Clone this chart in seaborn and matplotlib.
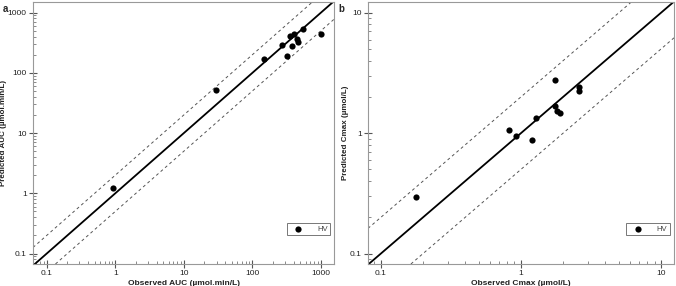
'''Predicted vs observed AUC and Cmax, log-log with 2-fold bands'''
import matplotlib
matplotlib.use('Agg')
import matplotlib.pyplot as plt
import seaborn as sns
import pandas as pd
from matplotlib.ticker import LogLocator, FixedLocator, FixedFormatter, NullFormatter

# Panel a: AUC (µmol.min/L)
auc_observed = [0.935, 29, 149, 269, 318, 352, 377, 407, 450, 466, 545, 998]
auc_predicted = [1.23, 51, 171, 286, 192, 404, 279, 437, 365, 329, 541, 437]

# Panel b: Cmax (µmol/L)
cmax_observed = [0.178, 0.817, 0.926, 1.2, 1.285, 1.74, 1.74, 1.8, 1.89, 2.61, 2.6]
cmax_predicted = [0.298, 1.06, 0.944, 0.88, 1.326, 2.79, 1.67, 1.52, 1.46, 2.41, 2.25]

auc_ticks = [0.1, 1, 10, 100, 1000]
auc_ticklabels = ['0.1', '1', '10', '100', '1000']
cmax_ticks = [0.1, 1, 10]
cmax_ticklabels = ['0.1', '1', '10']

sns.set_style('white')
plt.rcParams['font.family'] = ['Liberation Sans', 'DejaVu Sans']

fig = plt.figure(figsize=(6.76, 2.86), dpi=100)
ax_a = fig.add_axes([33 / 676, 22 / 286, 301 / 676, 262 / 286])
ax_b = fig.add_axes([368 / 676, 22 / 286, 306 / 676, 262 / 286])

panels = [
    (ax_a, auc_observed, auc_predicted, (0.063, 1550), (0.067, 1500),
     auc_ticks, auc_ticklabels, 'Observed AUC (µmol.min/L)', 'Predicted AUC (µmol.min/L)', 'a'),
    (ax_b, cmax_observed, cmax_predicted, (0.081, 12.4), (0.082, 12.3),
     cmax_ticks, cmax_ticklabels, 'Observed Cmax (µmol/L)', 'Predicted Cmax (µmol/L)', 'b'),
]

for ax, obs, pred, xlim, ylim, ticks, ticklabels, xlabel, ylabel, tag in panels:
    df = pd.DataFrame({'observed': obs, 'predicted': pred})
    ax.set_xscale('log')
    ax.set_yscale('log')

    # line of identity and 2-fold limits
    ax.axline((1, 1), (10, 10), color='black', lw=1.3, zorder=1)
    ax.axline((1, 2), (10, 20), color='#555555', lw=0.7, ls=(0, (3, 3)), zorder=1)
    ax.axline((1, 0.5), (10, 5), color='#555555', lw=0.7, ls=(0, (3, 3)), zorder=1)

    sns.scatterplot(data=df, x='observed', y='predicted', ax=ax, color='black',
                    s=20, edgecolor='black', linewidth=0, label='HV', zorder=3)

    ax.set_xlim(*xlim)
    ax.set_ylim(*ylim)
    for axis in (ax.xaxis, ax.yaxis):
        axis.set_major_locator(FixedLocator(ticks))
        axis.set_major_formatter(FixedFormatter(ticklabels))
        axis.set_minor_locator(LogLocator(base=10, subs=range(2, 10), numticks=20))
        axis.set_minor_formatter(NullFormatter())
    ax.tick_params(which='both', bottom=True, left=True, top=False, right=False)
    ax.tick_params(which='major', direction='inout', length=6, width=0.8,
                   color='#555555', labelsize=6, labelcolor='#222222', pad=1.5)
    ax.tick_params(which='minor', direction='in', length=2.5, width=0.6, color='#777777')
    for spine in ax.spines.values():
        spine.set_color('#999999')
        spine.set_linewidth(0.8)

    ax.set_xlabel(xlabel, fontsize=6, fontweight='bold', color='#222222', labelpad=2)
    ax.set_ylabel(ylabel, fontsize=5.8, fontweight='bold', color='#222222', labelpad=0.5)

    leg = ax.legend(loc='lower left', bbox_to_anchor=(0.83, 0.095, 0.17, 0.05), mode='expand',
                    fontsize=5.5, frameon=True, fancybox=False, borderpad=0.3,
                    handletextpad=1.2, handlelength=2.5, markerscale=1.0)
    leg.get_frame().set_edgecolor('#555555')
    leg.get_frame().set_linewidth(0.7)
    for t in leg.get_texts():
        t.set_color('#444444')

    fig.text(ax.get_position().x0 - 30 / 676, 0.985, tag, fontsize=7, fontweight='bold',
             va='top', ha='left')

fig.savefig('out.png', dpi=100)
